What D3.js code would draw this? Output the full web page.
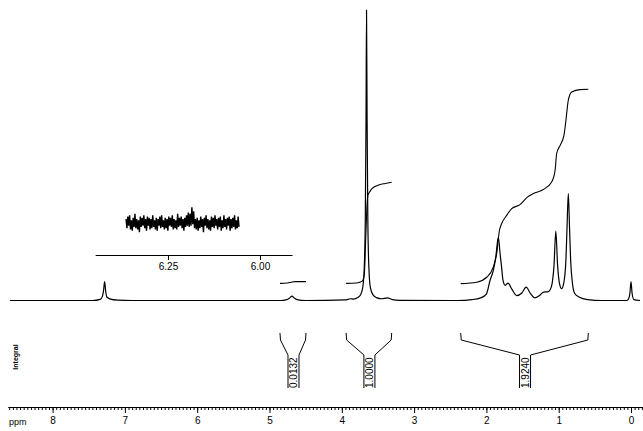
<!DOCTYPE html>
<html>
<head>
<meta charset="utf-8">
<script src="https://cdn.jsdelivr.net/npm/d3@7"></script>
<style>
  body { margin: 0; background: #fff; }
  svg { display: block; }
  text { font-family: "Liberation Sans", Arial, sans-serif; fill: #000; }
</style>
</head>
<body>
<svg width="643" height="431"></svg>
<script>
// 1H spectrum as [ppm, intensity] (main peak = 100)
const spectrum = [
  [8.59, 0], [7.45, 0], [7.34, 0.4], [7.31, 1.5], [7.295, 3.5], [7.28, 6.5], [7.265, 3],
  [7.25, 1.2], [7.2, 0.5], [7.1, 0.15], [6.9, 0],
  [4.85, 0], [4.76, 0.3], [4.72, 0.9], [4.69, 1.5], [4.66, 0.9], [4.62, 0.3], [4.5, 0],
  [3.95, 0.2], [3.88, 0.6], [3.84, 0.5], [3.78, 1.0], [3.74, 2.0], [3.71, 4.5], [3.69, 11],
  [3.675, 28], [3.665, 62], [3.658, 100], [3.65, 62], [3.64, 28], [3.625, 11], [3.605, 4.5],
  [3.57, 2], [3.52, 1], [3.45, 0.6], [3.37, 0.9], [3.3, 0.3], [3.2, 0.05], [2.4, 0],
  [2.2, 0.3], [2.08, 0.9], [2.0, 2.2], [1.95, 6.9], [1.905, 10.3], [1.87, 15], [1.835, 21.7],
  [1.81, 16], [1.79, 11.5], [1.77, 6.9], [1.74, 5.2], [1.70, 6], [1.65, 4], [1.58, 1.7],
  [1.51, 2.6], [1.45, 4.6], [1.39, 2.4], [1.33, 0.9], [1.27, 1.6], [1.21, 2.9],
  [1.15, 3.0], [1.12, 3.6], [1.09, 6], [1.065, 12], [1.04, 23.9], [1.015, 12], [0.99, 6],
  [0.96, 4.1], [0.93, 6], [0.90, 14], [0.885, 25], [0.867, 36.8], [0.85, 25], [0.835, 14],
  [0.81, 6], [0.78, 2.5], [0.72, 1.2], [0.6, 0.3], [0.4, 0],
  [0.06, 0], [0.04, 0.3], [0.015, 2.5], [0, 6.5], [-0.015, 2.5], [-0.04, 0.3], [-0.125, 0]
];

// integral traces, same vertical units
const integral1 = [[4.855, 5.9], [4.75, 6.0], [4.70, 6.3], [4.65, 6.5], [4.495, 6.5]];
const integral2 = [
  [3.94, 5.9], [3.80, 6.0], [3.72, 6.6], [3.69, 8.6], [3.67, 20.7], [3.655, 31], [3.64, 36.2],
  [3.62, 37.2], [3.58, 38.6], [3.50, 39.7], [3.40, 40.3], [3.31, 40.7]
];
const integral3 = [
  [2.355, 5.8], [2.134, 6.3], [1.996, 8.0], [1.905, 11.5], [1.858, 16.1], [1.82, 24.1],
  [1.79, 26.4], [1.72, 29.3], [1.65, 31.6], [1.535, 33], [1.434, 35.6], [1.35, 36.8],
  [1.213, 38.2], [1.097, 40.8], [1.05, 44.8], [1.028, 50.6], [0.98, 53.4], [0.927, 56.9],
  [0.90, 62], [0.867, 69], [0.82, 71.8], [0.705, 72.6], [0.59, 72.7]
];
const integrals = [integral1, integral2, integral3];
const integralValues = ["0.0132", "1.0000", "1.9240"];

// expanded inset (6.36 - 6.06 ppm), noise trace read as up/down deflections
const insetRange = [6.364, 6.057];
const insetNoise = [3,-4,5,-2,6,-5,2,-6,4,-3,7,-4,3,-5,2,-7,5,-3,4,-2,6,-4,3,-6,5,-2,4,-5,3,-4,
  6,-3,2,-5,4,-6,3,-2,5,-4,6,-3,2,-5,4,-4,3,-6,5,-2,4,-3,6,-5,3,-4,2,-5,7,-3,4,-2,5,-4,3,-6,
  4,-3,6,-2,8,-3,7,-2,12,-1,9,-4,3,-5,4,-6,2,-4,5,-3,3,-7,4,-2,6,-4,3,-5,2,-6,5,-3,4,-4,6,-2,
  3,-5,4,-3,5,-6,2,-4,6,-3,3,-5,4,-2,5,-6,3,-4,4,-3,6,-5,2,-4,5,-3];
const insetTicks = [6.25, 6.00];

const majorTicks = [8, 7, 6, 5, 4, 3, 2, 1, 0];

const svg = d3.select("svg");

const x = d3.scaleLinear().domain([8.7275, -0.166]).range([0, 643]);
const y = d3.scaleLinear().domain([0, 100]).range([300.5, 10]);

const line = d3.line()
    .x(d => x(d[0]))
    .y(d => y(d[1]))
    .curve(d3.curveMonotoneX);

// spectrum
svg.append("path")
    .datum(spectrum)
    .attr("d", line)
    .attr("fill", "none")
    .attr("stroke", "#000")
    .attr("stroke-width", 1.2);

// integral curves
svg.selectAll("path.integral")
    .data(integrals)
    .enter()
    .append("path")
    .attr("class", "integral")
    .attr("d", line)
    .attr("fill", "none")
    .attr("stroke", "#000")
    .attr("stroke-width", 1.1);

// integral brackets + values
const bracket = svg.selectAll("g.bracket")
    .data(integrals)
    .enter()
    .append("g")
    .attr("class", "bracket");

bracket.append("path")
    .attr("d", d => {
        const xl = x(d[0][0]), xr = x(d[d.length - 1][0]);
        const c = (xl + xr) / 2 + 0.5, h = 5.5;
        return `M${xl},333 L${xl + 0.5},340 L${c - h},355 L${c - h},388` +
               `M${xr},333 L${xr - 0.5},340 L${c + h},355 L${c + h},388`;
    })
    .attr("fill", "none")
    .attr("stroke", "#000")
    .attr("stroke-width", 1);

bracket.append("text")
    .attr("transform", d => {
        const c = (x(d[0][0]) + x(d[d.length - 1][0])) / 2 + 0.5;
        return `translate(${c},388) rotate(-90)`;
    })
    .attr("dominant-baseline", "central")
    .attr("font-size", 10)
    .text((d, i) => integralValues[i]);

svg.append("text")
    .attr("transform", "translate(15,357) rotate(-90)")
    .attr("text-anchor", "middle")
    .attr("dominant-baseline", "central")
    .attr("font-size", 7)
    .attr("font-weight", "bold")
    .text("Integral");

// ppm axis
const xa = x.copy().domain([8.62, -0.166]).range([x(8.62), x(-0.166)]);
const axisY = 407;

svg.append("g")
    .attr("transform", `translate(0,${axisY})`)
    .call(d3.axisBottom(xa).tickValues(d3.range(-0.15, 8.62, 0.05)).tickSize(3).tickSizeOuter(0).tickFormat(""))
    .call(g => g.selectAll("line,path").attr("stroke", "#000"));

svg.append("g")
    .attr("transform", `translate(0,${axisY})`)
    .call(d3.axisBottom(xa).tickValues(majorTicks).tickSize(6).tickSizeOuter(0).tickPadding(4).tickFormat(d3.format("d")))
    .call(g => g.select(".domain").remove())
    .call(g => g.selectAll("line").attr("stroke", "#000"))
    .call(g => g.selectAll("text").attr("font-size", 10).attr("font-family", "Liberation Sans, Arial, sans-serif"));

svg.append("text")
    .attr("x", 9)
    .attr("y", axisY + 15)
    .attr("dominant-baseline", "central")
    .attr("font-size", 9)
    .text("ppm");

// inset
const xi = d3.scaleLinear().domain([6.25, 6.00]).range([168, 260]);
const yi = d3.scaleLinear().domain([-10, 10]).range([236, 210]);
const step = (insetRange[1] - insetRange[0]) / (insetNoise.length - 1);

svg.append("path")
    .datum(insetNoise)
    .attr("d", d3.line().x((d, i) => xi(insetRange[0] + i * step)).y(d => yi(d)))
    .attr("fill", "none")
    .attr("stroke", "#000")
    .attr("stroke-width", 1.4);

const xiAxis = xi.copy().domain([6.448, 5.913]).range([xi(6.448), xi(5.913)]);
svg.append("g")
    .attr("transform", "translate(0,255)")
    .call(d3.axisBottom(xiAxis).tickValues(insetTicks).tickSize(5).tickSizeOuter(0).tickPadding(3).tickFormat(d3.format(".2f")))
    .call(g => g.selectAll("line,path").attr("stroke", "#000"))
    .call(g => g.selectAll("text").attr("font-size", 10).attr("font-family", "Liberation Sans, Arial, sans-serif"));
</script>
</body>
</html>
